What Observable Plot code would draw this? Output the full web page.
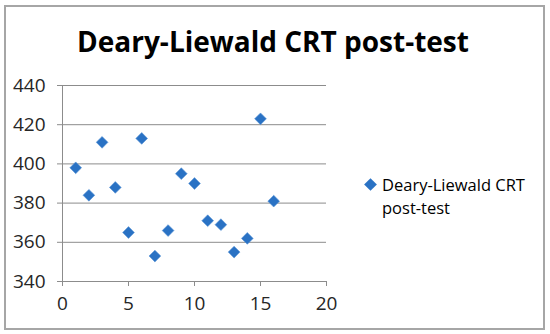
<!DOCTYPE html>
<html><head><meta charset="utf-8">
<script src="https://cdn.jsdelivr.net/npm/d3@7"></script>
<script src="https://cdn.jsdelivr.net/npm/@observablehq/plot@0.6"></script>
<style>
body{margin:0;background:#fff;}
#wrap{position:relative;width:550px;height:334px;overflow:hidden;font-family:"Open Sans",sans-serif;}
#frame{position:absolute;left:4px;top:5px;width:537px;height:321px;border:2px solid #a6a6a6;}
#title{position:absolute;left:0;width:546px;top:22px;text-align:center;font-weight:bold;font-size:28px;color:#000;white-space:nowrap;}
#legend{position:absolute;left:364px;top:173px;font-size:16.5px;line-height:23px;color:#000;}
#legend .sw{position:absolute;left:2px;top:7px;width:9px;height:9px;background:#2a72c4;transform:rotate(45deg);}
#legend .tx{margin-left:18px;}
#chart{position:absolute;left:0;top:0;}
</style></head>
<body><div id="wrap"><div id="frame"></div><div id="chart"></div>
<div id="title"></div><div id="legend"><div class="sw"></div><div class="tx"></div></div></div>
<script>
const titleText = "Deary-Liewald CRT post-test";
const seriesName = "Deary-Liewald CRT post-test";
const xs = [1,2,3,4,5,6,7,8,9,10,11,12,13,14,15,16];
const ys = [398,384,411,388,365,413,353,366,395,390,371,369,355,362,423,381];
const xTicks = [0,5,10,15,20];
const yTicks = [340,360,380,400,420,440];

document.getElementById("title").textContent = titleText;
document.querySelector("#legend .tx").innerHTML = "Deary-Liewald CRT<br>post-test";

const data = xs.map((x,i)=>({x, y: ys[i]}));
const chart = Plot.plot({
  width: 550, height: 334,
  marginLeft: 62, marginRight: 224, marginTop: 85, marginBottom: 53,
  style: {fontFamily: "'Open Sans', sans-serif", fontSize: "19px", color: "#404040", background: "transparent"},
  x: {domain: [0,20], ticks: xTicks, label: null},
  y: {domain: [340,440], ticks: yTicks, label: null},
  marks: [
    Plot.gridY(yTicks, {stroke: "#8c8c8c", strokeOpacity: 1, strokeWidth: 1}),
    Plot.ruleX([0], {stroke: "#8c8c8c", strokeWidth: 1}),
    Plot.axisX({ticks: xTicks, tickSize: 5, tickPadding: 10, stroke: "#8c8c8c", fill: "#262626", tickFormat: d=>String(d)}),
    Plot.axisY({ticks: yTicks, tickSize: 5, tickPadding: 12, stroke: "#8c8c8c", fill: "#262626", tickFormat: d=>String(d)}),
    Plot.dot(data, {x: "x", y: "y", symbol: "diamond2", r: 5.3, fill: "#2a72c4", stroke: "#5a95d6", strokeWidth: 0.6})
  ]
});
document.getElementById("chart").appendChild(chart);
</script></body></html>
